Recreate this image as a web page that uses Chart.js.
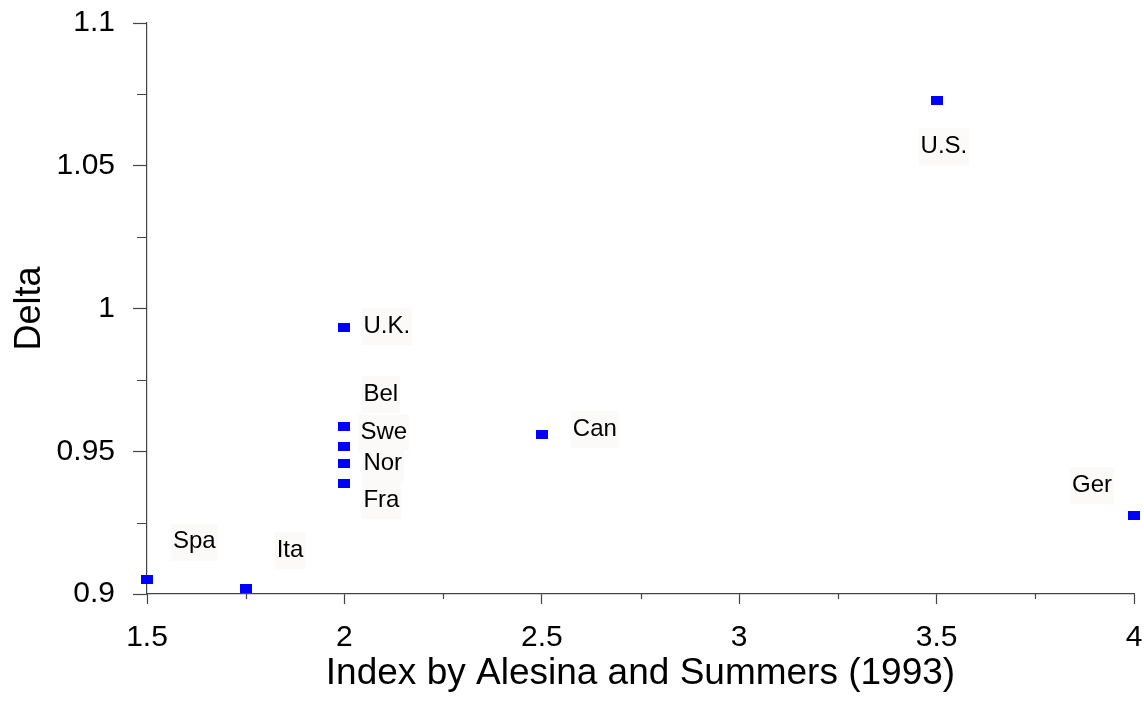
<!DOCTYPE html>
<html lang="en">
<head>
<meta charset="UTF-8">
<script src="https://cdn.jsdelivr.net/npm/chart.js"></script>
<title>Delta vs index</title>
<style>
  html, body { margin: 0; padding: 0; background: #fff; }
  #wrap { width: 1144px; height: 702px; }
</style>
</head>
<body>
<div id="wrap"><canvas id="grafico"></canvas></div>
<script>
// data
const countries = ['Spa', 'Ita', 'U.K.', 'Bel', 'Swe', 'Nor', 'Fra', 'Can', 'U.S.', 'Ger'];
const indexValues = [1.5, 1.75, 2, 2, 2, 2, 2, 2.5, 3.5, 4];
const deltaValues = [0.905, 0.902, 0.9935, 0.9585, 0.9515, 0.9457, 0.9388, 0.956, 1.0729, 0.9276];
const xTicks = [1.5, 2, 2.5, 3, 3.5, 4];
const yTicks = [0.9, 0.95, 1, 1.05, 1.1];

// label placement in pixels, relative to the point (left edge of text, middle)
const labelOffsets = [
  [26, -38], [31, -38], [19, -1], [19, -33], [16, -15],
  [19, 0], [19, 17], [31, -5], [-16, 46], [-62, -30]
];

const FONT = "'Liberation Sans', Arial, sans-serif";

// small blue rectangle marker
const marker = document.createElement('canvas');
marker.width = 12;
marker.height = 9;
const mctx = marker.getContext('2d');
mctx.fillStyle = '#0000ff';
mctx.fillRect(0, 0, 12, 9);

const pontos = indexValues.map((x, i) => ({ x: x, y: deltaValues[i] }));

const minorTicks = {
  id: 'minorTicks',
  afterDraw(chart) {
    const c = chart.ctx;
    const xs = chart.scales.x, ys = chart.scales.y;
    c.save();
    c.strokeStyle = '#444';
    c.lineWidth = 1.2;
    c.beginPath();
    for (let i = 0; i < yTicks.length - 1; i++) {
      const v = (yTicks[i] + yTicks[i + 1]) / 2;
      const py = Math.round(ys.getPixelForValue(v)) + 0.5;
      c.moveTo(xs.left - 10, py);
      c.lineTo(xs.left, py);
    }
    for (let i = 0; i < xTicks.length - 1; i++) {
      const v = (xTicks[i] + xTicks[i + 1]) / 2;
      const px = Math.round(xs.getPixelForValue(v)) + 0.5;
      c.moveTo(px, ys.bottom);
      c.lineTo(px, ys.bottom + 5);
    }
    c.stroke();
    c.restore();
  }
};

const pointLabels = {
  id: 'pointLabels',
  afterDatasetsDraw(chart) {
    const c = chart.ctx;
    const meta = chart.getDatasetMeta(0);
    c.save();
    c.font = '24px ' + FONT;
    c.textBaseline = 'middle';
    c.textAlign = 'left';
    meta.data.forEach((el, i) => {
      const tx = el.x + labelOffsets[i][0];
      const ty = el.y + labelOffsets[i][1];
      const w = c.measureText(countries[i]).width;
      c.fillStyle = '#fbfaf8';
      c.fillRect(tx - 2, ty - 18, w + 4, 37);
      c.fillStyle = '#000';
      c.fillText(countries[i], tx, ty);
    });
    c.restore();
  }
};

new Chart(document.getElementById('grafico'), {
  type: 'scatter',
  data: {
    datasets: [{
      data: pontos,
      pointStyle: marker,
      pointRadius: 6,
      pointHoverRadius: 6,
      clip: false
    }]
  },
  options: {
    responsive: true,
    maintainAspectRatio: false,
    animation: false,
    events: [],
    layout: { padding: { top: 23, right: 10, left: 0, bottom: 0 } },
    plugins: {
      legend: { display: false },
      tooltip: { enabled: false }
    },
    scales: {
      x: {
        type: 'linear',
        min: 1.5,
        max: 4,
        afterBuildTicks: s => { s.ticks = xTicks.map(v => ({ value: v })); },
        afterFit: s => { s.height = 108; s.paddingLeft = 0; s.paddingRight = 0; },
        border: { color: '#444', width: 1.2 },
        grid: { drawOnChartArea: false, drawTicks: true, tickLength: 10, tickColor: '#444', tickWidth: 1.2 },
        ticks: { color: '#000', font: { family: FONT, size: 30 }, padding: 16, maxRotation: 0, callback: v => String(v) },
        title: {
          display: true,
          text: 'Index by Alesina and Summers (1993)',
          color: '#000',
          font: { family: FONT, size: 37 },
          padding: { top: 0, bottom: 6 }
        }
      },
      y: {
        type: 'linear',
        min: 0.9,
        max: 1.1,
        afterBuildTicks: s => { s.ticks = yTicks.map(v => ({ value: v })); },
        afterFit: s => { s.width = 147; s.paddingTop = 0; s.paddingBottom = 0; },
        border: { color: '#444', width: 1.2 },
        grid: { drawOnChartArea: false, drawTicks: true, tickLength: 14, tickColor: '#444', tickWidth: 1.2 },
        ticks: { color: '#000', font: { family: FONT, size: 30 }, padding: 18, callback: v => String(v) },
        title: {
          display: true,
          text: 'Delta',
          color: '#000',
          font: { family: FONT, size: 36 },
          padding: { top: 8, bottom: 0 }
        }
      }
    }
  },
  plugins: [minorTicks, pointLabels]
});
</script>
</body>
</html>
